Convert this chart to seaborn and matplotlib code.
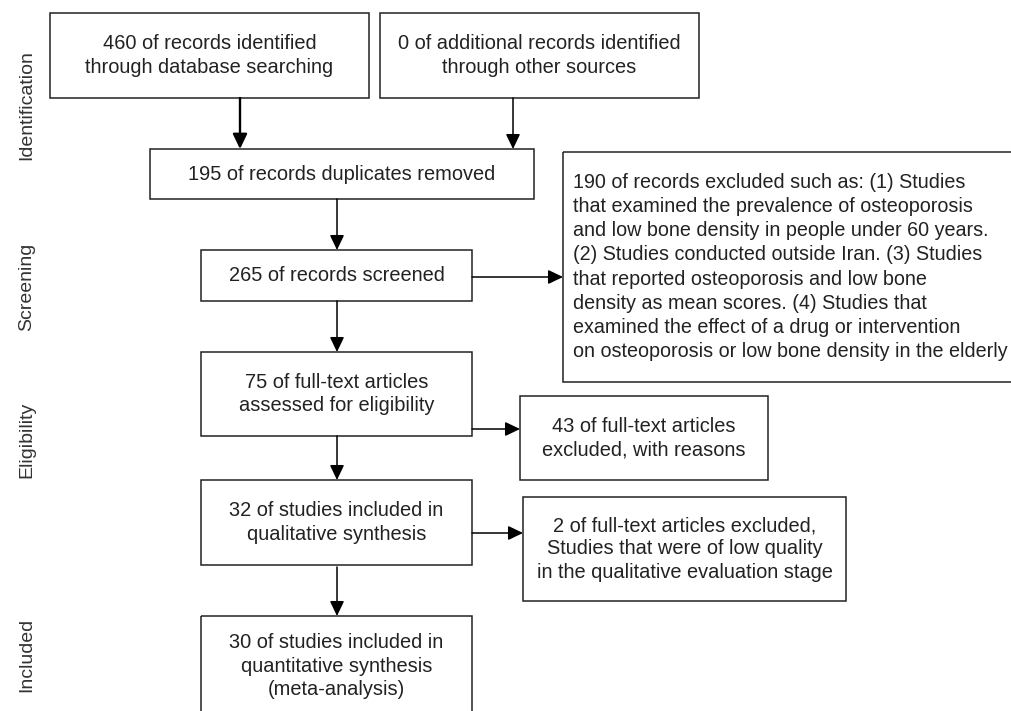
"""
PRISMA flow diagram of the study selection.
"""
import seaborn as sns
import matplotlib.pyplot as plt
from matplotlib.patches import Rectangle

sns.set_theme(style='white')
plt.rcParams['font.family'] = ['Liberation Sans', 'DejaVu Sans']

# stage labels on the left
stages = ['Identification', 'Screening', 'Eligibility', 'Included']
stage_y = [105, 287, 440, 655]

# box texts
box_text = [
    '460 of records identified\nthrough database searching',
    '0 of additional records identified\nthrough other sources',
    '195 of records duplicates removed',
    '265 of records screened',
    '75 of full-text articles\nassessed for eligibility',
    '43 of full-text articles\nexcluded, with reasons',
    '32 of studies included in\nqualitative synthesis',
    '2 of full-text articles excluded,\nStudies that were of low quality\nin the qualitative evaluation stage',
    '30 of studies included in\nquantitative synthesis\n(meta-analysis)',
]
excluded_text = ('190 of records excluded such as: (1) Studies\n'
                 'that examined the prevalence of osteoporosis\n'
                 'and low bone density in people under 60 years.\n'
                 '(2) Studies conducted outside Iran. (3) Studies\n'
                 'that reported osteoporosis and low bone\n'
                 'density as mean scores. (4) Studies that\n'
                 'examined the effect of a drug or intervention\n'
                 'on osteoporosis or low bone density in the elderly')

# layout in pixels: x0, y0, x1, y1
boxes = [
    (50, 13, 369, 98),
    (380, 13, 699, 98),
    (150, 149, 534, 199),
    (201, 250, 472, 301),
    (201, 352, 472, 436),
    (520, 396, 768, 480),
    (201, 480, 472, 565),
    (523, 497, 846, 601),
    (201, 616, 472, 716),
]
big_box = (563, 152, 1016, 382)

# arrows: (x0, y0, x1, y1, width)
arrows = [
    (240, 98, 240, 149, 1.7),
    (513, 98, 513, 149, 1.1),
    (337, 199, 337, 250, 1.1),
    (337, 301, 337, 352, 1.1),
    (472, 277, 563, 277, 1.1),
    (337, 436, 337, 480, 1.1),
    (472, 429, 520, 429, 1.1),
    (337, 567, 337, 616, 1.1),
    (472, 533, 523, 533, 1.1),
]

fig = plt.figure(figsize=(10.11, 7.11), dpi=100)
ax = fig.add_axes([0, 0, 1, 1])
ax.set_xlim(0, 1011)
ax.set_ylim(711, 0)
ax.axis('off')

for (x0, y0, x1, y1), txt in zip(boxes, box_text):
    ax.add_patch(Rectangle((x0, y0), x1 - x0, y1 - y0, fill=False,
                           edgecolor='#222222', lw=1.1))
    ax.text((x0 + x1) / 2, (y0 + y1) / 2, txt, ha='center', va='center',
            fontsize=14.4, color='#222222', linespacing=1.3)

x0, y0, x1, y1 = big_box
ax.add_patch(Rectangle((x0, y0), x1 - x0, y1 - y0, fill=False,
                       edgecolor='#222222', lw=1.1, clip_on=False))
ax.text(x0 + 10, (y0 + y1) / 2, excluded_text, ha='left', va='center',
        fontsize=14.2, color='#222222', linespacing=1.34)

for x0, y0, x1, y1, w in arrows:
    ax.annotate('', xy=(x1, y1), xytext=(x0, y0),
                arrowprops=dict(arrowstyle='-|>,head_length=0.75,head_width=0.36',
                                color='black', lw=w, shrinkA=0, shrinkB=0))

for lab, y in zip(stages, stage_y):
    ax.text(27, y, lab, rotation=90, ha='center', va='center',
            fontsize=14, color='#333333')

fig.savefig('out.png', dpi=100)
